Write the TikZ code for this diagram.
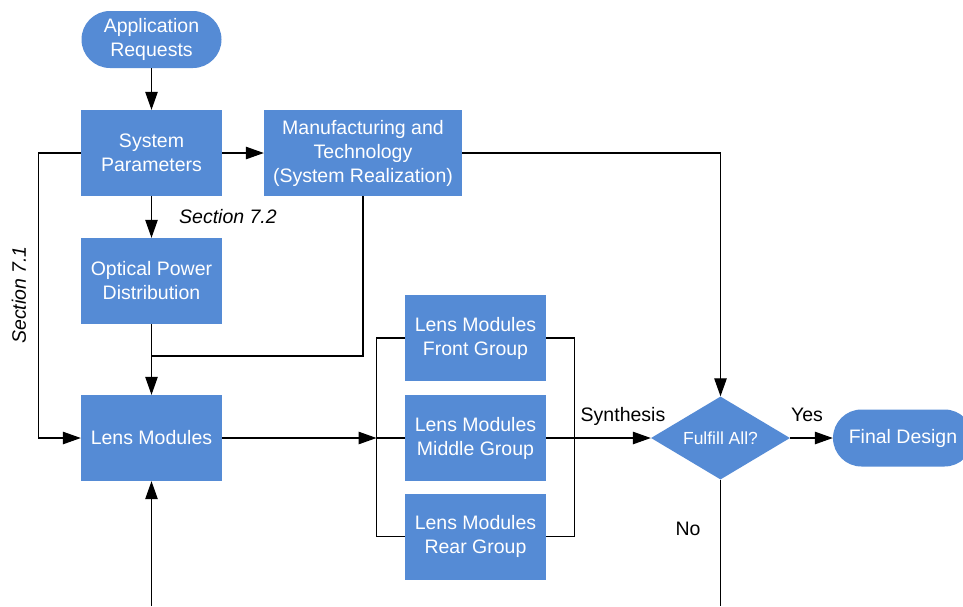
\documentclass[tikz,border=0pt]{standalone}
\usepackage{fontspec}
\setmainfont{Liberation Sans}
\usetikzlibrary{arrows.meta,shapes.geometric}
\definecolor{blu}{RGB}{85,139,213}
\tikzset{
  flow/.style={line width=1.1pt, draw=black},
  arr/.style={flow, -{Triangle[length=18pt,width=12.5pt]}},
  stepbox/.style={rectangle, fill=blu, text=white, inner sep=0pt,
    minimum width=141pt, minimum height=86pt, align=center,
    font=\fontsize{19.5}{24}\selectfont},
  terminal/.style={rectangle, rounded corners=28.5pt, fill=blu, text=white,
    inner sep=0pt, minimum width=140pt, minimum height=57pt, align=center,
    font=\fontsize{19.5}{24}\selectfont},
  decision/.style={diamond, aspect=1.67, fill=blu, text=white, inner sep=0pt,
    minimum width=139pt, minimum height=83pt,
    font=\fontsize{17.5}{21}\selectfont},
  lbl/.style={text=black, inner sep=0pt, font=\fontsize{19.5}{24}\selectfont},
  seclbl/.style={text=black, inner sep=0pt, font=\fontsize{19.5}{24}\selectfont\itshape}
}
\begin{document}
\begin{tikzpicture}[x=1pt,y=-1pt]
\clip (0,0) rectangle (963,606);
\fill[white] (0,0) rectangle (963,606);

% blocks
\node[terminal] (app) at (151.5,39.5) {Application\\Requests};
\node[stepbox] (sys) at (151.5,153) {System\\Parameters};
\node[stepbox, minimum width=198pt] (man) at (363,153) {Manufacturing and\\Technology\\(System Realization)};
\node[stepbox] (opt) at (151.5,281) {Optical Power\\Distribution};
\node[stepbox] (lens) at (151.5,438) {Lens Modules};
\node[stepbox] (front) at (475.5,338) {Lens Modules\\Front Group};
\node[stepbox] (mid) at (475.5,438) {Lens Modules\\Middle Group};
\node[stepbox] (rear) at (475.5,536.5) {Lens Modules\\Rear Group};
\node[decision] (dec) at (720.5,438) {Fulfill All?};
\node[terminal] (fin) at (903,438) {Final Design};

% junction points
\coordinate (loopx) at (38.5,153);
\coordinate (join) at (151.5,356);
\coordinate (split) at (376.5,438);
\coordinate (merge) at (574.5,438);
\coordinate (nobottom) at (720.5,606);
\coordinate (backin) at (151.5,606);

% connectors
\draw[arr] (app) -- (sys);
\draw[arr] (sys) -- (man);
\draw[arr] (sys) -- (opt);
\draw[arr] (sys.west) -- (loopx) |- (lens.west);
\draw[arr] (man.east) -| (dec.north);
\draw[flow] (man.south) |- (join);
\draw[arr] (opt) -- (lens);
\draw[arr] (lens) -- (split);
\draw[flow] (front.west) -| (split |- rear.west) -- (rear.west);
\draw[flow] (split) -- (mid.west);
\draw[flow] (front.east) -| (merge |- rear.east) -- (rear.east);
\draw[arr] (mid.east) -- (dec.west);
\draw[arr] (dec.east) -- (fin.west);
\draw[flow] (dec.south) -- (nobottom);
\draw[arr] (backin) -- (lens.south);

% labels
\node[seclbl] (s72) at (228,217) {Section 7.2};
\node[seclbl, rotate=90] (s71) at (19,295) {Section 7.1};
\node[lbl] (syn) at (623,416) {Synthesis};
\node[lbl] (yes) at (807,415) {Yes};
\node[lbl] (no) at (688,529) {No};
\end{tikzpicture}
\end{document}
